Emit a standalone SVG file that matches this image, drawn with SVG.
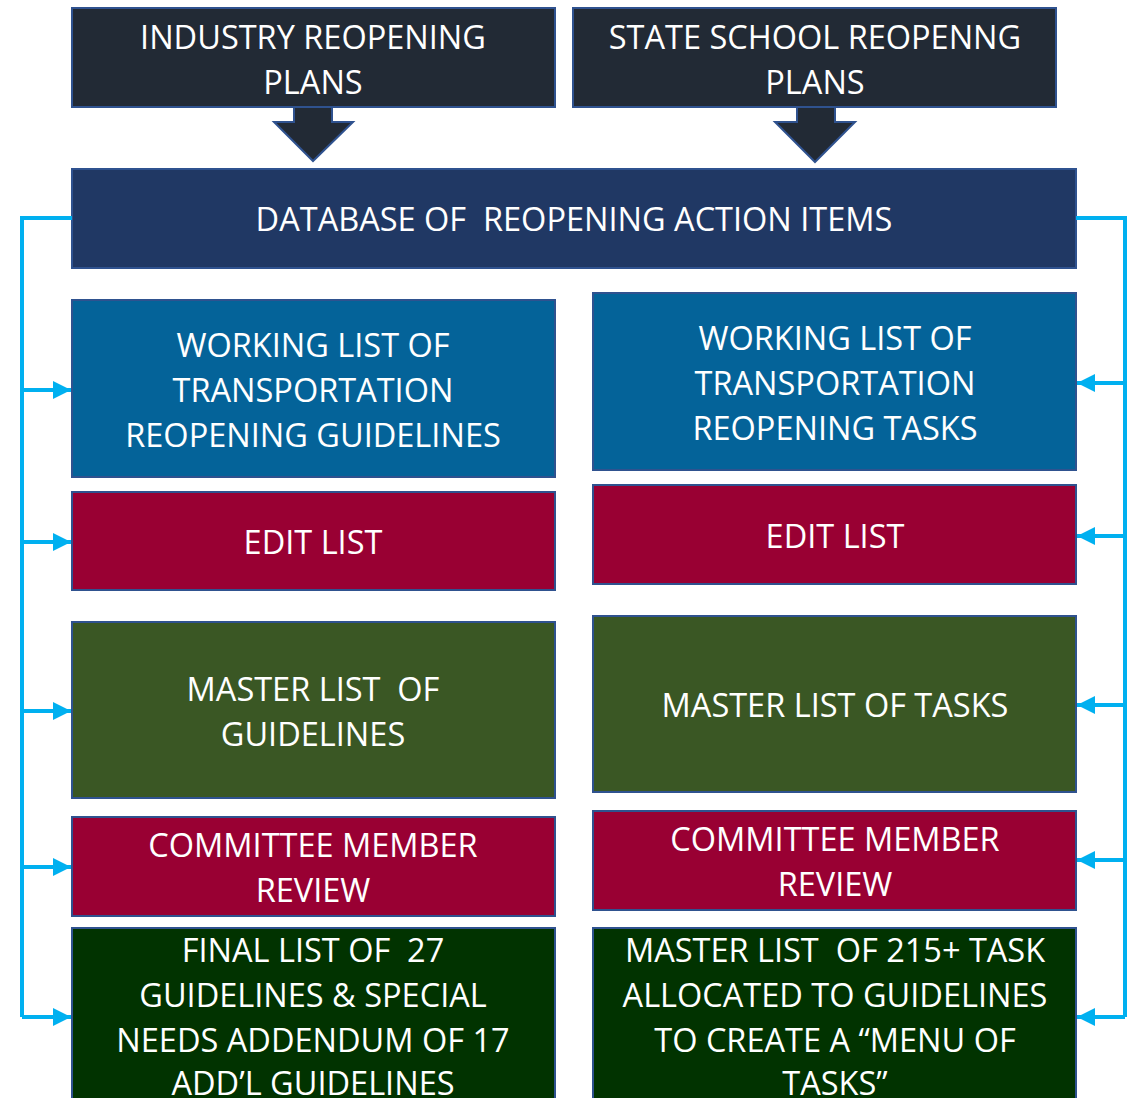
<svg xmlns="http://www.w3.org/2000/svg" width="1132" height="1098" viewBox="0 0 1132 1098">
<style>
.b{stroke:#2F528F;stroke-width:2}
.t{font-family:"Open Sans","Liberation Sans",sans-serif;font-size:32.5px;fill:#fff;text-anchor:middle}
.top{fill:#222A35}
.db{fill:#203864}
.wl{fill:#046399}
.ed{fill:#990033}
.ms{fill:#3A5724}
.fn{fill:#013300}
.c{fill:none;stroke:#00B0F0;stroke-width:4}
</style>
<defs>
<marker id="ah" viewBox="0 0 10 10" refX="10" refY="5" markerWidth="4.5" markerHeight="4.5" orient="auto" markerUnits="strokeWidth">
<path d="M0,0 L10,5 L0,10 z" fill="#00B0F0"/>
</marker>
</defs>
<g id="industry">
<rect class="b top" x="72" y="8" width="483" height="99"/>
<text class="t" x="313" y="49">INDUSTRY REOPENING</text>
<text class="t" x="313" y="94">PLANS</text>
<path class="b top" d="M294,107 L294,122 L274,122 L313,161 L353,122 L332,122 L332,107 z"/>
</g>
<g id="school">
<rect class="b top" x="573" y="8" width="483" height="99"/>
<text class="t" x="815" y="49">STATE SCHOOL REOPENNG</text>
<text class="t" x="815" y="94">PLANS</text>
<path class="b top" d="M797,107 L797,122 L775,122 L815,162 L855,122 L835,122 L835,107 z"/>
</g>
<g id="database">
<rect class="b db" x="72" y="169" width="1004" height="99"/>
<text class="t" x="574" y="231" xml:space="preserve">DATABASE OF  REOPENING ACTION ITEMS</text>
</g>
<g id="l1"><rect class="b wl" x="72" y="300" width="483" height="177"/>
<text class="t" x="313" y="357">WORKING LIST OF</text><text class="t" x="313" y="402">TRANSPORTATION</text><text class="t" x="313" y="447">REOPENING GUIDELINES</text></g>
<g id="l2"><rect class="b ed" x="72" y="492" width="483" height="98"/>
<text class="t" x="313" y="554">EDIT LIST</text></g>
<g id="l3"><rect class="b ms" x="72" y="622" width="483" height="176"/>
<text class="t" x="313" y="701" xml:space="preserve">MASTER LIST  OF</text><text class="t" x="313" y="746">GUIDELINES</text></g>
<g id="l4"><rect class="b ed" x="72" y="817" width="483" height="99"/>
<text class="t" x="313" y="857">COMMITTEE MEMBER</text><text class="t" x="313" y="902">REVIEW</text></g>
<g id="l5"><rect class="b fn" x="72" y="928" width="483" height="180"/>
<text class="t" x="313" y="962" xml:space="preserve">FINAL LIST OF  27</text><text class="t" x="313" y="1007">GUIDELINES &amp; SPECIAL</text><text class="t" x="313" y="1052">NEEDS ADDENDUM OF 17</text><text class="t" x="313" y="1095">ADD’L GUIDELINES</text></g>
<g id="r1"><rect class="b wl" x="593" y="293" width="483" height="177"/>
<text class="t" x="835" y="350">WORKING LIST OF</text><text class="t" x="835" y="395">TRANSPORTATION</text><text class="t" x="835" y="440">REOPENING TASKS</text></g>
<g id="r2"><rect class="b ed" x="593" y="485" width="483" height="99"/>
<text class="t" x="835" y="548">EDIT LIST</text></g>
<g id="r3"><rect class="b ms" x="593" y="616" width="483" height="176"/>
<text class="t" x="835" y="717">MASTER LIST OF TASKS</text></g>
<g id="r4"><rect class="b ed" x="593" y="811" width="483" height="99"/>
<text class="t" x="835" y="851">COMMITTEE MEMBER</text><text class="t" x="835" y="896">REVIEW</text></g>
<g id="r5"><rect class="b fn" x="593" y="928" width="483" height="180"/>
<text class="t" x="835" y="962" xml:space="preserve">MASTER LIST  OF 215+ TASK</text><text class="t" x="835" y="1007">ALLOCATED TO GUIDELINES</text><text class="t" x="835" y="1052">TO CREATE A “MENU OF</text><text class="t" x="835" y="1095">TASKS”</text></g>
<g id="connectors">
<path class="c" d="M72,218 L22,218 L22,1017"/>
<path class="c" d="M22,390 L71,390" marker-end="url(#ah)"/>
<path class="c" d="M22,542 L71,542" marker-end="url(#ah)"/>
<path class="c" d="M22,711 L71,711" marker-end="url(#ah)"/>
<path class="c" d="M22,867 L71,867" marker-end="url(#ah)"/>
<path class="c" d="M22,1017 L71,1017" marker-end="url(#ah)"/>
<path class="c" d="M1076,218 L1125,218 L1125,1017"/>
<path class="c" d="M1125,383 L1077,383" marker-end="url(#ah)"/>
<path class="c" d="M1125,536 L1077,536" marker-end="url(#ah)"/>
<path class="c" d="M1125,705 L1077,705" marker-end="url(#ah)"/>
<path class="c" d="M1125,860 L1077,860" marker-end="url(#ah)"/>
<path class="c" d="M1125,1017 L1077,1017" marker-end="url(#ah)"/>
</g>
</svg>
